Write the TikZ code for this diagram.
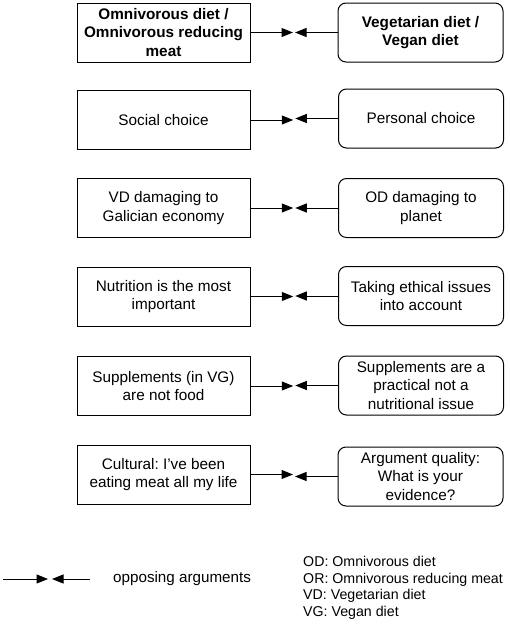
\documentclass[tikz,border=0pt]{standalone}
\usepackage{fontspec}
\setmainfont{Liberation Sans}
\usetikzlibrary{arrows.meta,calc}
\frenchspacing
\tikzset{
  boxtext/.style={font=\fontsize{15.3}{18.5}\selectfont, align=center, inner sep=0pt},
  leftbox/.style={boxtext, draw, line width=1pt, minimum width=173pt, minimum height=59pt},
  rightbox/.style={boxtext, draw, line width=1pt, rounded corners=8pt, minimum width=165pt, minimum height=59pt},
  opp/.style={line width=1pt, -{Triangle[length=11.5pt,width=9pt]}},
  legtext/.style={font=\fontsize{14.2}{16.7}\selectfont, inner sep=0pt}
}
\begin{document}
\begin{tikzpicture}[x=1pt,y=-1pt]
\useasboundingbox (0,0) rectangle (510,624);
% rows
\node[leftbox, font=\fontsize{15.3}{18.5}\selectfont\bfseries] (L1) at (163.5,32.5) {Omnivorous diet /\\Omnivorous reducing\\meat};
\node[rightbox, font=\fontsize{15.3}{18.5}\selectfont\bfseries] (R1) at (420.5,32.5) {Vegetarian diet /\\Vegan diet};
\node[leftbox] (L2) at (163.5,120) {Social choice};
\node[rightbox] (R2) at (421,118.5) {Personal choice};
\node[leftbox] (L3) at (163.5,208) {VD damaging to\\Galician economy};
\node[rightbox] (R3) at (421,208) {OD damaging to\\planet};
\node[leftbox] (L4) at (163.5,296.5) {Nutrition is the most\\important};
\node[rightbox] (R4) at (421,296) {Taking ethical issues\\into account};
\node[leftbox] (L5) at (163.5,386) {Supplements (in VG)\\are not food};
\node[rightbox] (R5) at (421,385.5) {Supplements are a\\practical not a\\nutritional issue};
\node[leftbox] (L6) at (163.5,474.5) {Cultural: I've been\\eating meat all my life};
\node[rightbox] (R6) at (420.5,476.5) {Argument quality:\\What is your\\evidence?};
% arrows
\foreach \i in {1,...,6}{
  \coordinate (ml\i) at ($(L\i.east)!0.5!(R\i.west)+(-1,0)$);
  \coordinate (mr\i) at ($(L\i.east)!0.5!(R\i.west)+(1,0)$);
  \draw[opp] (L\i.east) -- (ml\i |- L\i.east);
  \draw[opp] (R\i.west) -- (mr\i |- R\i.west);
}
% legend
\coordinate (a1) at (3,579);
\coordinate (a2) at (48,579);
\coordinate (b1) at (90,579);
\coordinate (b2) at (52,579);
\draw[opp] (a1) -- (a2);
\draw[opp] (b1) -- (b2);
\node[legtext, font=\fontsize{15.2}{17}\selectfont, anchor=west] (leg) at (113,579) {opposing arguments};
\node[legtext, anchor=north west, align=left] (abbr) at (303,556) {OD: Omnivorous diet\\OR: Omnivorous reducing meat\\VD: Vegetarian diet\\VG: Vegan diet};
\end{tikzpicture}
\end{document}
